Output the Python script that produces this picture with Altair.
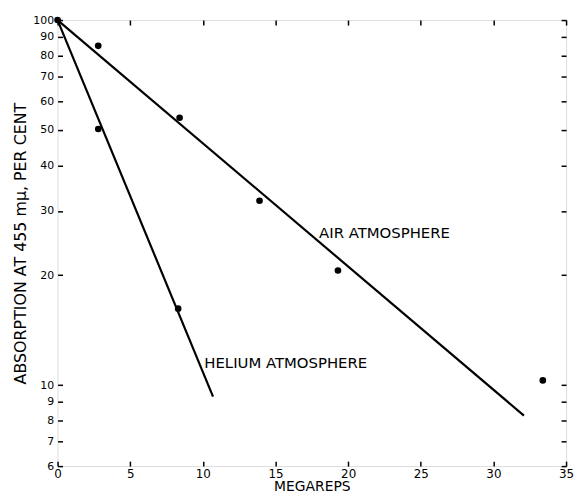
import altair as alt
import pandas as pd

# Observed points
air_x = [0, 2.8, 8.4, 13.9, 19.3, 33.4]
air_y = [100, 85, 54, 32, 20.6, 10.3]
he_x = [2.8, 8.3]
he_y = [50.3, 16.2]

# Fitted lines (end points)
air_line_x = [0, 32.1]
air_line_y = [100, 8.25]
he_line_x = [0, 10.7]
he_line_y = [100, 9.3]

# Annotations
label_text = ["AIR ATMOSPHERE", "HELIUM ATMOSPHERE"]
label_x = [18.0, 10.1]
label_y = [26.1, 11.5]

x_ticks = [0, 5, 10, 15, 20, 25, 30, 35]
y_ticks = [6, 7, 8, 9, 10, 20, 30, 40, 50, 60, 70, 80, 90, 100]

pts = pd.DataFrame({"x": air_x + he_x, "y": air_y + he_y,
                    "series": ["air"] * len(air_x) + ["he"] * len(he_x)})
lines = pd.DataFrame({"x": air_line_x + he_line_x, "y": air_line_y + he_line_y,
                      "series": ["air"] * 2 + ["he"] * 2})
labels = pd.DataFrame({"x": label_x, "y": label_y, "text": label_text})

FONT = "DejaVu Sans"
xs = alt.Scale(domain=[0, 35], nice=False, zero=False)
ys = alt.Scale(type="log", domain=[6, 100], nice=False)

common = dict(offset=-5, tickSize=5, domain=False, grid=False, tickColor="black",
              tickWidth=1.5, labelColor="black", labelFont=FONT, titleFont=FONT,
              titleColor="black", titleFontWeight="normal")

x_bottom = alt.Axis(values=x_ticks, orient="bottom", title="MEGAREPS", labelPadding=2,
                    labelFontSize=12, titleFontSize=14, titlePadding=1, labelFlush=False, **common)
y_left = alt.Axis(values=y_ticks, orient="left", title="ABSORPTION AT 455 mμ, PER CENT",
                  labelPadding=4, labelFontSize=11, titleFontSize=16, titlePadding=4,
                  labelFlush=False, labelOverlap=False, format="d", **common)
x_top = alt.Axis(values=x_ticks, orient="top", title=None, labels=False, **common)
y_right = alt.Axis(values=y_ticks, orient="right", title=None, labels=False, **common)

line_layer = alt.Chart(lines).mark_line(color="black", strokeWidth=2.2).encode(
    x=alt.X("x:Q", scale=xs, axis=x_bottom),
    y=alt.Y("y:Q", scale=ys, axis=y_left),
    detail="series:N",
)
pt_layer = alt.Chart(pts).mark_circle(color="black", size=45, opacity=1).encode(
    x=alt.X("x:Q", scale=xs, axis=x_top),
    y=alt.Y("y:Q", scale=ys, axis=y_right),
)
txt_layer = alt.Chart(labels).mark_text(align="left", baseline="middle", font=FONT,
                                        fontSize=15, color="black").encode(
    x=alt.X("x:Q", scale=xs, axis=None),
    y=alt.Y("y:Q", scale=ys, axis=None),
    text="text:N",
)

chart = alt.layer(line_layer, pt_layer, txt_layer).resolve_axis(
    x="independent", y="independent"
).properties(
    width=513, height=450,
    padding={"left": 5, "top": 4, "right": 0, "bottom": 0},
).configure_view(stroke="black", strokeWidth=1.5).configure(background="white")

chart.save("out.html", embed_options={"renderer": "svg", "actions": False})
